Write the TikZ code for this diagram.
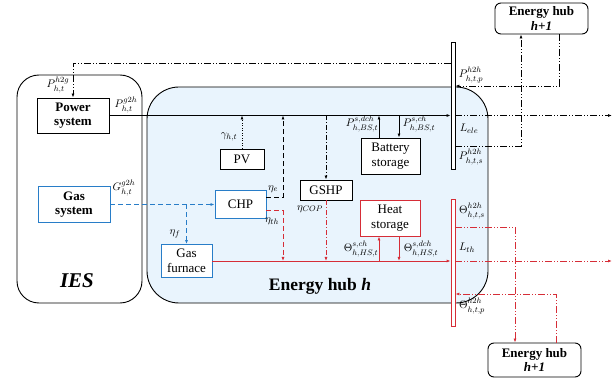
\documentclass[tikz,border=0pt]{standalone}
\usepackage{fontspec}
\setmainfont{Liberation Serif}
\usetikzlibrary{arrows.meta,calc}
\definecolor{ublue}{RGB}{40,125,200}
\definecolor{ured}{RGB}{214,45,55}
\definecolor{hubfill}{RGB}{233,244,253}
\newcommand{\lbsym}[3]{$#1^{\raisebox{1pt}{$\scriptstyle #2$}}_{\raisebox{-1pt}{$\scriptstyle #3$}}$}
\tikzset{
  boxe/.style={draw, line width=0.9pt, fill=white, align=center, inner sep=0pt, font=\fontsize{13}{14.5}\selectfont},
  bboxe/.style={boxe, font=\fontsize{13}{14.5}\selectfont\bfseries},
  bluebox/.style={draw=ublue},
  redbox/.style={draw=ured},
  hubbox/.style={draw, line width=0.9pt, fill=white, rounded corners=6pt, align=center, inner sep=0pt, font=\fontsize{13}{14.5}\selectfont\bfseries},
  busbar/.style={draw, line width=0.8pt, fill=white, minimum width=4pt, inner sep=0pt},
  lab/.style={inner sep=0pt, font=\fontsize{11}{12}\selectfont},
  ln/.style={line width=0.8pt},
  ddot/.style={ln, dash pattern=on 7pt off 2pt on 1pt off 2pt on 1pt off 2pt},
  dashdot/.style={ln, dash pattern=on 5pt off 2pt on 1pt off 2pt},
  dsh/.style={ln, dash pattern=on 5pt off 3pt},
  dtt/.style={ln, dash pattern=on 1pt off 1.5pt},
  arr/.style={-{Latex[length=4pt,width=3pt]}},
}
\begin{document}
\begin{tikzpicture}[x=1pt,y=-1pt]
\useasboundingbox (0,0) rectangle (616,382);
% big frames
\node[draw, line width=0.9pt, rounded corners=22pt, minimum width=125pt, minimum height=228pt, inner sep=0pt] (ies) at (79.5,189) {};
\node[draw, line width=0.9pt, fill=hubfill, rounded corners=32pt, minimum width=341pt, minimum height=216pt, inner sep=0pt] (hub) at (317.5,195) {};
% boxes
\node[bboxe, minimum width=72pt, minimum height=35pt] (ps) at (73,115.5) {Power\\system};
\node[bboxe, bluebox, minimum width=72pt, minimum height=36pt] (gs) at (74,204.5) {Gas\\system};
\node[boxe, minimum width=44pt, minimum height=20pt] (pv) at (242,159) {PV};
\node[boxe, bluebox, minimum width=51pt, minimum height=28pt] (chp) at (240.5,204.5) {CHP};
\node[boxe, bluebox, minimum width=51pt, minimum height=33pt] (gf) at (186.5,261) {Gas\\furnace};
\node[boxe, minimum width=52pt, minimum height=20pt] (gshp) at (326,190) {GSHP};
\node[boxe, minimum width=59pt, minimum height=36pt] (bat) at (390.5,156) {Battery\\storage};
\node[boxe, redbox, minimum width=60pt, minimum height=36pt] (hs) at (390,218) {Heat\\storage};
\node[hubbox, minimum width=93pt, minimum height=31pt] (hubA) at (541.5,18.5) {Energy hub\\\textit{h+1}};
\node[hubbox, minimum width=93pt, minimum height=34pt] (hubB) at (534.5,360) {Energy hub\\\textit{h+1}};
% helper coordinates
\coordinate (cx) at (283,0);
\coordinate (b1) at (379,0);
\coordinate (b2) at (399,0);
\coordinate (xA) at (559,0);
\coordinate (xs) at (521,0);
\coordinate (xr) at (612,0);
\coordinate (xt) at (515,0);
\coordinate (xu) at (556,0);
\coordinate (y63) at (0,63);
\coordinate (y86) at (0,86);
\coordinate (y146) at (0,146);
\coordinate (y227) at (0,227);
\coordinate (y294) at (0,294);
% bars
\node[busbar, minimum height=127pt] (ebar) at (453,105.5) {};
\node[busbar, draw=ured, minimum height=127pt] (tbar) at (453,262.5) {};
% internal electric
\draw[ln, arr] (ps.east) -- (ps.east -| ebar.west);
\draw[dtt, arr] (pv.north) -- (pv.north |- ps.east);
\draw[dsh, arr] ($(chp.east)+(0,-7)$) -| (cx |- ps.east);
\draw[dsh, ured, arr] ($(chp.east)+(0,6)$) -| (cx |- gf.east);
\draw[dsh, ublue, arr] (gs.east) -- (chp.west);
\draw[dsh, ublue, arr] (gf.north |- gs.east) -- (gf.north);
\draw[dashdot, arr] (gshp.north |- ps.east) -- (gshp.north);
\draw[dashdot, ured, arr] (gshp.south) -- (gshp.south |- gf.east);
\draw[ln, arr] (b1 |- bat.north) -- (b1 |- ps.east);
\draw[ln, arr] (b2 |- ps.east) -- (b2 |- bat.north);
\draw[ln, ured, arr] (gf.east) -- (gf.east -| tbar.west);
\draw[ln, ured, arr] (b1 |- gf.east) -- (b1 |- hs.south);
\draw[ln, ured, arr] (b2 |- hs.south) -- (b2 |- gf.east);
% external electric
\draw[ddot, arr] (ebar.west |- y63) -| (ps.north);
\draw[ddot, arr] (xA |- hubA.south) |- (ebar.east |- y86);
\draw[ddot, arr] (ebar.east |- ps.east) -- (xr |- ps.east);
\draw[ddot, arr] (ebar.east |- y146) -| (xs |- hubA.south);
% external thermal
\draw[ddot, ured, arr] (tbar.east |- y227) -| (xt |- hubB.north);
\draw[ddot, ured, arr] (tbar.east |- gf.east) -- (xr |- gf.east);
\draw[ddot, ured, arr] (xu |- hubB.north) |- (tbar.east |- y294);
% redraw bars on top
\node[busbar, minimum height=127pt] (ebar2) at (453,105.5) {};
\node[busbar, draw=ured, minimum height=127pt] (tbar2) at (453,262.5) {};
% labels
\node[lab] (l1) at (58,85) {\lbsym{P}{h2g}{h,t}};
\node[lab] (l2) at (126,105) {\lbsym{P}{g2h}{h,t}};
\node[lab] (l3) at (124,188) {\lbsym{G}{g2h}{h,t}};
\node[lab] (l4) at (229,137) {$\gamma_{h,t}$};
\node[lab] (l5) at (273,189) {$\eta_{e}$};
\node[lab] (l6) at (272,221) {$\eta_{th}$};
\node[lab] (l7) at (175,234) {$\eta_{f}$};
\node[lab] (l8) at (310,209) {$\eta_{COP}$};
\node[lab] (l9) at (362,124) {\lbsym{P}{s,dch}{h,BS,t}};
\node[lab] (l10) at (419,124) {\lbsym{P}{s,ch}{h,BS,t}};
\node[lab] (l11) at (469,129) {$L_{ele}$};
\node[lab] (l12) at (471,157) {\lbsym{P}{h2h}{h,t,s}};
\node[lab] (l13) at (471,75) {\lbsym{P}{h2h}{h,t,p}};
\node[lab] (l14) at (472,211) {\lbsym{\Theta}{h2h}{h,t,s}};
\node[lab] (l15) at (467,248) {$L_{th}$};
\node[lab] (l16) at (472,306) {\lbsym{\Theta}{h2h}{h,t,p}};
\node[lab] (l17) at (361,249) {\lbsym{\Theta}{s,ch}{h,HS,t}};
\node[lab] (l18) at (421,249) {\lbsym{\Theta}{s,dch}{h,HS,t}};
\node[font=\fontsize{17.5}{20}\selectfont\bfseries] (hl) at (320,286) {Energy hub \textit{h}};
\node[font=\fontsize{21}{24}\selectfont\bfseries\itshape] (il) at (77,281) {IES};
\end{tikzpicture}
\end{document}
